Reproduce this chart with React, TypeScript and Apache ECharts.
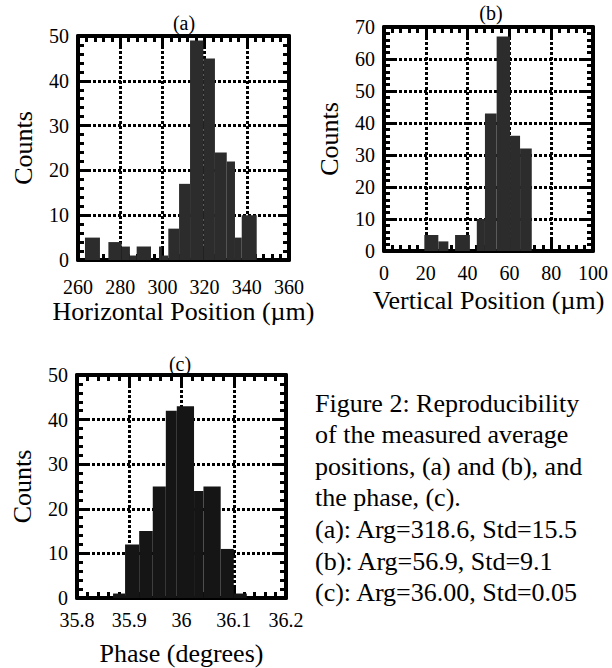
import React, { useEffect, useRef } from "react";
import * as echarts from "echarts";

// ---------- data ----------
// (a) Horizontal position histogram: bin left edge, bin right edge, counts
const aLeft = [263.3, 274.4, 280.7, 284.6, 287.8, 298.4, 299.7, 302.8, 307.9, 313.1, 319.4, 324.9, 330.5, 334.4, 337.6];
const aRight = [270.4, 280.7, 284.6, 287.8, 294.6, 299.7, 302.8, 307.9, 313.1, 319.4, 324.9, 330.5, 334.4, 337.6, 344.7];
const aCounts = [5, 4, 3, 1, 3, 3, 1, 7, 17, 49, 45, 24, 22, 5, 10];

// (b) Vertical position histogram
const bLeft = [19.3, 26.0, 34.0, 44.4, 48.3, 53.9, 60.3, 65.1];
const bRight = [26.0, 30.8, 41.1, 48.3, 53.9, 60.3, 65.1, 70.7];
const bCounts = [5, 3, 5, 10, 43, 67, 36, 32];

// (c) Phase histogram
const cLeft = [35.869, 35.892, 35.919, 35.945, 35.970, 35.991, 36.024, 36.042, 36.075, 36.100];
const cRight = [35.892, 35.919, 35.945, 35.970, 35.991, 36.024, 36.042, 36.075, 36.100, 36.125];
const cCounts = [1, 12, 15, 25, 42, 43, 24, 25, 11, 1];

// axis ranges [min, max, interval]
const aXAxis = [260, 360, 20];
const aYAxis = [0, 50, 10];
const bXAxis = [0, 100, 20];
const bYAxis = [0, 70, 10];
const cXAxis = [35.8, 36.2, 0.1];
const cYAxis = [0, 50, 10];

const panelLabels = ["(a)", "(b)", "(c)"];
const xNames = ["Horizontal Position (µm)", "Vertical Position (µm)", "Phase (degrees)"];
const yName = "Counts";

const captionLines = [
  "Figure 2: Reproducibility",
  "of the measured average",
  "positions, (a) and (b), and",
  "the phase, (c).",
  "(a): Arg=318.6, Std=15.5",
  "(b): Arg=56.9, Std=9.1",
  "(c): Arg=36.00, Std=0.05",
];

const FONT = "Liberation Serif";

function rows(l: number[], r: number[], c: number[]) {
  return l.map((v, i) => [v, r[i], c[i]]);
}

const grids = [
  { left: 78, top: 36, width: 211, height: 224 },
  { left: 384, top: 27, width: 209, height: 224 },
  { left: 77, top: 375, width: 209, height: 223 },
];
const labelPos = [
  [184, 23],
  [491, 13],
  [180, 364],
];

function mainAxis(range: number[], position: string, name: string, nameGap: number, margin: number, vertical: boolean) {
  return {
    type: "value",
    position,
    min: range[0],
    max: range[1],
    interval: range[2],
    name,
    nameLocation: "middle",
    nameGap,
    nameRotate: vertical ? 90 : 0,
    nameTextStyle: { fontSize: 26, color: "#000", fontFamily: FONT },
    axisLine: { show: true, onZero: false, lineStyle: { color: "#000", width: 4 } },
    axisTick: { show: true, inside: true, length: 11, lineStyle: { color: "#000", width: 3 } },
    minorTick: { show: true, splitNumber: 5, length: 6, lineStyle: { color: "#000", width: 3 } },
    axisLabel: { show: true, fontSize: 20, color: "#000", fontFamily: FONT, margin },
    splitLine: { show: true, showMinLine: false, showMaxLine: false, lineStyle: { color: "#000", width: 3, type: [3, 2] } },
  };
}

function sideAxis(range: number[], position: string) {
  return {
    type: "value",
    position,
    min: range[0],
    max: range[1],
    interval: range[2],
    axisLine: { show: true, onZero: false, lineStyle: { color: "#000", width: 4 } },
    axisTick: { show: true, inside: true, length: 11, lineStyle: { color: "#000", width: 3 } },
    minorTick: { show: true, splitNumber: 5, length: 6, lineStyle: { color: "#000", width: 3 } },
    axisLabel: { show: false },
    splitLine: { show: false },
  };
}

function panelOption(i: number) {
  const xr = [aXAxis, bXAxis, cXAxis][i];
  const yr = [aYAxis, bYAxis, cYAxis][i];
  const xLabelMargin = [17, 12, 12][i];
  const xNameGap = [38, 36, 42][i];
  const color = ["#2c2c2c", "#2c2c2c", "#151515"][i];
  const data = [rows(aLeft, aRight, aCounts), rows(bLeft, bRight, bCounts), rows(cLeft, cRight, cCounts)][i];
  return {
    animation: false,
    grid: [{ ...grids[i], outerBoundsMode: "none", containLabel: false }],
    xAxis: [mainAxis(xr, "bottom", xNames[i], xNameGap, xLabelMargin, false), sideAxis(xr, "top")],
    yAxis: [mainAxis(yr, "left", yName, 42, 9, true), sideAxis(yr, "right")],
    graphic: [
      {
        type: "text",
        x: labelPos[i][0],
        y: labelPos[i][1],
        z: 100,
        style: {
          text: panelLabels[i],
          fontSize: 20,
          fontFamily: FONT,
          fill: "#000",
          align: "center",
          verticalAlign: "middle",
        },
      },
    ],
    series: [
      {
        type: "custom",
        xAxisIndex: 0,
        yAxisIndex: 0,
        z: 3,
        data,
        encode: { x: [0, 1], y: 2 },
        renderItem: (params: any, api: any) => {
          const p0 = api.coord([api.value(0), api.value(2)]);
          const p1 = api.coord([api.value(1), 0]);
          return {
            type: "rect",
            shape: { x: p0[0], y: p0[1], width: p1[0] - p0[0], height: p1[1] - p0[1] },
            style: { fill: color },
          };
        },
      },
    ],
  };
}

function Panel({ index }: { index: number }) {
  const ref = useRef<HTMLDivElement>(null);
  useEffect(() => {
    if (!ref.current) return;
    const chart = echarts.init(ref.current, undefined, { renderer: "svg" });
    chart.setOption(panelOption(index));
    return () => chart.dispose();
  }, [index]);
  return <div ref={ref} style={{ position: "absolute", left: 0, top: 0, width: 612, height: 668 }} />;
}

function Caption() {
  const ref = useRef<HTMLDivElement>(null);
  useEffect(() => {
    if (!ref.current) return;
    const chart = echarts.init(ref.current, undefined, { renderer: "svg" });
    const graphic: any[] = captionLines.map((t, i) => ({
      type: "text",
      x: 315,
      y: 403 + i * 31.6,
      style: { text: t, fontSize: 26, fontFamily: FONT, fill: "#000", align: "left", verticalAlign: "middle" },
    }));
    chart.setOption({ animation: false, graphic });
    return () => chart.dispose();
  }, []);
  return <div ref={ref} style={{ position: "absolute", left: 0, top: 0, width: 612, height: 668 }} />;
}

export default function App() {
  return (
    <div style={{ position: "fixed", left: 0, top: 0, width: 612, height: 668, background: "#fff" }}>
      <Panel index={0} />
      <Panel index={1} />
      <Panel index={2} />
      <Caption />
    </div>
  );
}
